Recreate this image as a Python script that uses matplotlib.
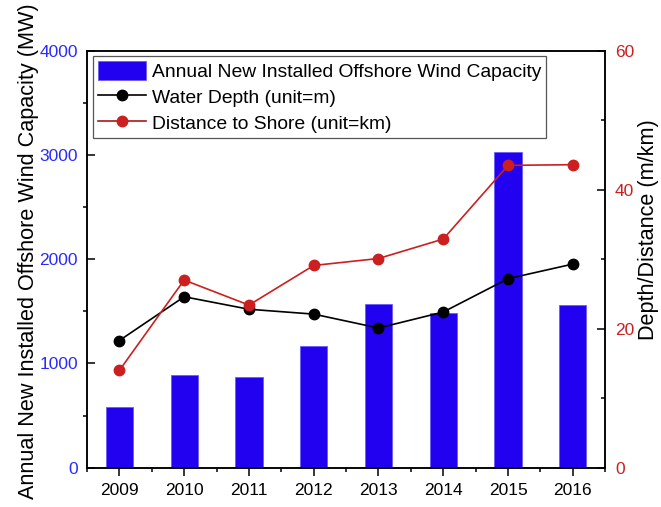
import matplotlib
matplotlib.use("Agg")
import matplotlib.pyplot as plt
from matplotlib.ticker import MultipleLocator, FixedLocator
from matplotlib.patches import Patch
from matplotlib.lines import Line2D

plt.rcParams['font.family'] = ['Liberation Sans', 'DejaVu Sans']

# Offshore wind statistics by year
years = [2009, 2010, 2011, 2012, 2013, 2014, 2015, 2016]
capacity_mw = [580, 885, 870, 1170, 1570, 1485, 3025, 1560]
water_depth_m = [18.3, 24.6, 22.8, 22.1, 20.1, 22.4, 27.2, 29.3]
distance_km = [14.0, 27.0, 23.4, 29.1, 30.1, 32.9, 43.5, 43.6]

bar_label = "Annual New Installed Offshore Wind Capacity"
depth_label = "Water Depth (unit=m)"
dist_label = "Distance to Shore (unit=km)"

BLUE = '#2200f0'
RED = '#cc1f1f'
TICK_BLUE = '#2a2aff'

fig = plt.figure(figsize=(6.61, 5.07), dpi=100)
ax = fig.add_axes([0.1316, 0.0775, 0.784, 0.8225])
ax2 = ax.twinx()

ax.bar(years, capacity_mw, width=0.42, color=BLUE, edgecolor='#6a5cff',
       linewidth=0.6, zorder=2)

ax2.plot(years, water_depth_m, color='black', lw=1.2, marker='o', ms=7.5,
         mec='black', zorder=3)
ax2.plot(years, distance_km, color=RED, lw=1.2, marker='o', ms=7.5,
         mec=RED, zorder=3)

ax.set_xlim(2008.5, 2016.5)
ax.set_ylim(0, 4000)
ax2.set_ylim(0, 60)

ax.xaxis.set_major_locator(FixedLocator(years))
ax.xaxis.set_minor_locator(MultipleLocator(0.5))
ax.yaxis.set_major_locator(MultipleLocator(1000))
ax.yaxis.set_minor_locator(MultipleLocator(500))
ax2.yaxis.set_major_locator(MultipleLocator(20))
ax2.yaxis.set_minor_locator(MultipleLocator(10))

tick_fs = 12.5
ax.tick_params(axis='x', which='major', direction='out', length=5.8, width=1.1,
               labelsize=tick_fs, pad=5, top=False)
ax.tick_params(axis='x', which='minor', direction='out', length=2.9, width=1.1,
               top=False)
ax.tick_params(axis='y', which='major', direction='in', length=5.8, width=1.1,
               labelsize=tick_fs, labelcolor=TICK_BLUE, pad=6.5)
ax.tick_params(axis='y', which='minor', direction='out', length=2.9, width=1.1)
ax2.tick_params(axis='y', which='major', direction='in', length=5.8, width=1.1,
                labelsize=tick_fs, labelcolor=RED, pad=7)
ax2.tick_params(axis='y', which='minor', direction='in', length=2.9, width=1.1)

for a in (ax, ax2):
    for s in a.spines.values():
        s.set_linewidth(1.1)
        s.set_color('black')

ax.set_ylabel("Annual New Installed Offshore Wind Capacity (MW)", fontsize=15.6)
ax.yaxis.set_label_coords(-0.093, 0.52)
ax2.set_ylabel("Depth/Distance (m/km)", fontsize=15.6)
ax2.yaxis.set_label_coords(1.064, 0.57)

handles = [
    Patch(facecolor=BLUE, edgecolor='#6a5cff', linewidth=0.6),
    Line2D([], [], color='black', lw=1.2, marker='o', ms=7.5),
    Line2D([], [], color='#a81818', lw=1.2, marker='o', ms=7.5, mfc=RED, mec=RED),
]
leg = ax2.legend(handles, [bar_label, depth_label, dist_label],
                 loc='upper left', bbox_to_anchor=(0.012, 0.988),
                 borderaxespad=0, fontsize=13.9, frameon=True, fancybox=False,
                 edgecolor='#555555', framealpha=1, handlelength=2.5,
                 handleheight=1.2, handletextpad=0.3, labelspacing=0.3,
                 borderpad=0.25)
leg.get_frame().set_linewidth(0.9)

fig.savefig("out.png", dpi=100)
